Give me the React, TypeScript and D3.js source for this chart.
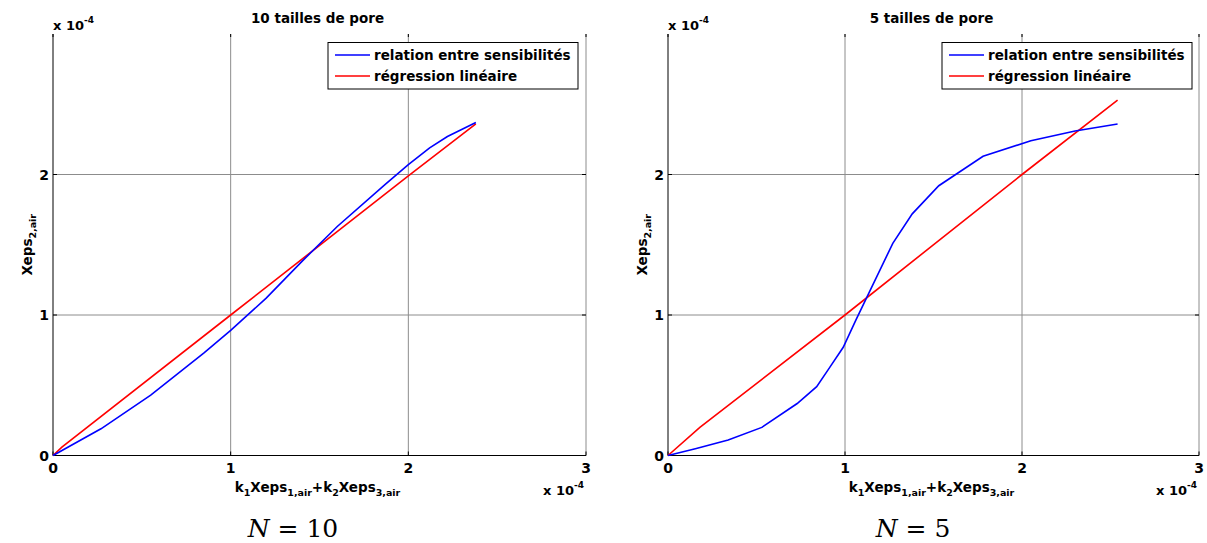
import React from "react";
import * as d3 from "d3";

// ---- data (units of 1e-4) ----
const xTicks = [0, 1, 2, 3];
const yTicks = [0, 1, 2];
const legendLabels = ["relation entre sensibilités", "régression linéaire"];
const titles = ["10 tailles de pore", "5 tailles de pore"];
const captions = ["10", "5"];

const blue10X = [0, 0.27, 0.55, 0.85, 1.0, 1.2, 1.4, 1.6, 1.87, 2.0, 2.12, 2.22, 2.3, 2.38];
const blue10Y = [0, 0.19, 0.43, 0.73, 0.89, 1.12, 1.38, 1.63, 1.93, 2.07, 2.19, 2.27, 2.32, 2.37];
const red10X = [0, 0.05, 1.0, 2.0, 2.38];
const red10Y = [0, 0.06, 1.0, 1.99, 2.36];

const blue5X = [0, 0.16, 0.34, 0.53, 0.73, 0.84, 0.91, 0.99, 1.06, 1.27, 1.38, 1.53, 1.78, 2.05, 2.3, 2.54];
const blue5Y = [0, 0.05, 0.11, 0.2, 0.37, 0.49, 0.62, 0.77, 0.96, 1.51, 1.72, 1.92, 2.13, 2.24, 2.31, 2.36];
const red5X = [0, 0.18, 1.0, 2.0, 2.54];
const red5Y = [0, 0.2, 1.0, 2.0, 2.53];

const W = 1207;
const H = 543;
const FONT = "'DejaVu Sans', Verdana, sans-serif";

type PanelProps = {
  x0: number;
  x1: number;
  title: string;
  caption: string;
  captionX: number;
  blueX: number[];
  blueY: number[];
  redX: number[];
  redY: number[];
  legendX: number;
};

function Panel({ x0, x1, title, caption, captionX, blueX, blueY, redX, redY, legendX }: PanelProps) {
  const yBottom = 455.5;
  const yTop = 34;
  const xs = d3.scaleLinear().domain([0, 3]).range([x0, x1]);
  const ys = d3.scaleLinear().domain([0, 3]).range([yBottom, yTop]);
  const line = d3
    .line<[number, number]>()
    .x((d) => xs(d[0]))
    .y((d) => ys(d[1]));
  const blue = line(blueX.map((x, i) => [x, blueY[i]] as [number, number])) || "";
  const red = line(redX.map((x, i) => [x, redY[i]] as [number, number])) || "";
  const cx = (x0 + x1) / 2;
  const grid = "#8c8c8c";
  const tl = 4;
  return (
    <g fontFamily={FONT} fontWeight="bold">
      {/* grid */}
      {xTicks.slice(1).map((t) => (
        <line key={"gx" + t} x1={xs(t)} x2={xs(t)} y1={yTop} y2={yBottom} stroke={grid} strokeWidth={1} />
      ))}
      {yTicks.slice(1).map((t) => (
        <line key={"gy" + t} x1={x0} x2={x1} y1={ys(t)} y2={ys(t)} stroke={grid} strokeWidth={1} />
      ))}
      {/* axes */}
      <line x1={x0} x2={x0} y1={yTop} y2={yBottom} stroke="#000" strokeWidth={1} />
      <line x1={x0} x2={x1} y1={yBottom} y2={yBottom} stroke="#000" strokeWidth={1} />
      {/* ticks */}
      {xTicks.map((t) => (
        <g key={"tx" + t}>
          <line x1={xs(t)} x2={xs(t)} y1={yBottom} y2={yBottom - tl} stroke="#000" />
          <line x1={xs(t)} x2={xs(t)} y1={yTop} y2={yTop + tl - 1} stroke="#000" />
        </g>
      ))}
      {yTicks.map((t) => (
        <g key={"ty" + t}>
          <line x1={x0} x2={x0 + tl} y1={ys(t)} y2={ys(t)} stroke="#000" />
          <line x1={x1} x2={x1 - tl} y1={ys(t)} y2={ys(t)} stroke="#000" />
        </g>
      ))}
      {/* tick labels */}
      {xTicks.map((t) => (
        <text key={"lx" + t} x={xs(t)} y={473} fontSize={14} textAnchor="middle">
          {t}
        </text>
      ))}
      {yTicks.map((t) => (
        <text key={"ly" + t} x={x0 - 4} y={ys(t) + 5} fontSize={14} textAnchor="end">
          {t}
        </text>
      ))}
      {/* exponent labels */}
      <text x={x0} y={30} fontSize={13}>
        x 10<tspan dy={-7} fontSize={9}>-4</tspan>
      </text>
      <text x={x1 - 2} y={495} fontSize={13} textAnchor="end">
        x 10<tspan dy={-7} fontSize={9}>-4</tspan>
      </text>
      {/* title */}
      <text x={cx - 2} y={23} fontSize={13.5} textAnchor="middle">
        {title}
      </text>
      {/* x label */}
      <text x={cx - 2} y={492} fontSize={13.5} textAnchor="middle">
        k<tspan dy={4} fontSize={9.5}>1</tspan>
        <tspan dy={-4}>Xeps</tspan>
        <tspan dy={4} fontSize={9.5}>1,air</tspan>
        <tspan dy={-4}>+k</tspan>
        <tspan dy={4} fontSize={9.5}>2</tspan>
        <tspan dy={-4}>Xeps</tspan>
        <tspan dy={4} fontSize={9.5}>3,air</tspan>
      </text>
      {/* y label */}
      <text
        transform={`translate(${x0 - 21},${(yTop + yBottom) / 2}) rotate(-90)`}
        fontSize={13.5}
        textAnchor="middle"
      >
        Xeps<tspan dy={4} fontSize={9.5}>2,air</tspan>
      </text>
      {/* data */}
      <path d={red} fill="none" stroke="#ff0000" strokeWidth={1.6} />
      <path d={blue} fill="none" stroke="#0000ff" strokeWidth={1.6} />
      {/* legend */}
      <rect x={legendX} y={42.5} width={250} height={46.5} fill="#fff" stroke="#000" strokeWidth={1} />
      <line x1={legendX + 7} x2={legendX + 42} y1={55} y2={55} stroke="#0000ff" strokeWidth={1.6} />
      <line x1={legendX + 7} x2={legendX + 42} y1={76} y2={76} stroke="#ff0000" strokeWidth={1.6} />
      <text x={legendX + 46} y={60} fontSize={13.5}>
        {legendLabels[0]}
      </text>
      <text x={legendX + 46} y={81} fontSize={13.5}>
        {legendLabels[1]}
      </text>
      {/* caption */}
      <text
        x={captionX}
        y={537}
        fontSize={25}
        fontWeight="normal"
        fontFamily="'DejaVu Serif', 'Liberation Serif', serif"
        textAnchor="middle"
      >
        <tspan fontStyle="italic">N</tspan> = {caption}
      </text>
    </g>
  );
}

export default function App() {
  return (
    <svg
      width={W}
      height={H}
      viewBox={`0 0 ${W} ${H}`}
      style={{ position: "absolute", left: 0, top: 0, background: "#fff" }}
    >
      <rect x={0} y={0} width={W} height={H} fill="#fff" />
      <Panel
        x0={53}
        x1={586}
        title={titles[0]}
        caption={captions[0]}
        captionX={293}
        blueX={blue10X}
        blueY={blue10Y}
        redX={red10X}
        redY={red10Y}
        legendX={328}
      />
      <Panel
        x0={668}
        x1={1199}
        title={titles[1]}
        caption={captions[1]}
        captionX={913}
        blueX={blue5X}
        blueY={blue5Y}
        redX={red5X}
        redY={red5Y}
        legendX={942}
      />
    </svg>
  );
}
